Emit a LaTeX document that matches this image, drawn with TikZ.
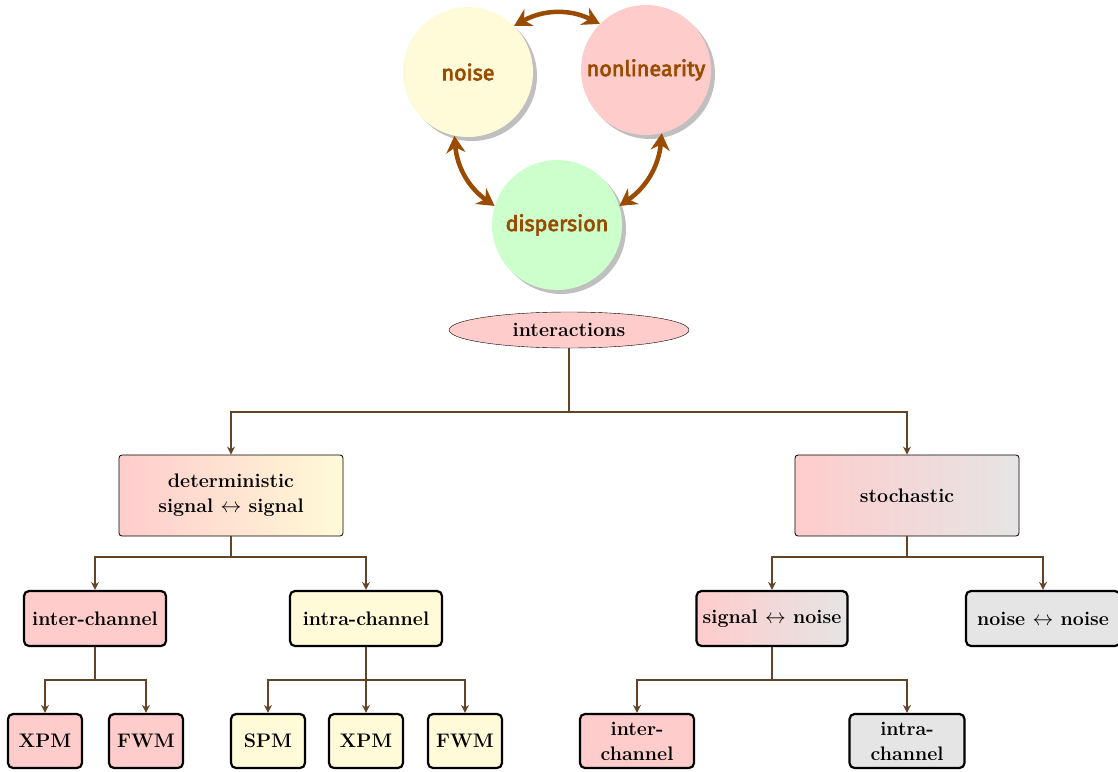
\documentclass[tikz,border=0pt]{standalone}
\usepackage{fontspec}
\newfontfamily\firafont{Fira Sans}[FakeBold=3]
\usetikzlibrary{arrows.meta,shadows,shapes.geometric}
\definecolor{pinkf}{RGB}{255,204,204}
\definecolor{yelf}{RGB}{255,250,215}
\definecolor{greenf}{RGB}{204,255,204}
\definecolor{greyf}{RGB}{229,229,229}
\definecolor{topbrown}{RGB}{153,76,0}
\definecolor{treebrown}{RGB}{100,68,38}
\tikzset{
  circ/.style={circle, minimum size=130pt, inner sep=0pt, draw=none, text=topbrown,
    font=\firafont\fontsize{21.5}{26}\selectfont,
    drop shadow={shadow xshift=4pt, shadow yshift=-4pt, fill=black!25, opacity=1}},
  topar/.style={draw=topbrown, line width=4.5pt, {Stealth[length=17pt,width=19pt]}-{Stealth[length=17pt,width=19pt]}},
  treefont/.style={font=\fontsize{19.6}{25}\selectfont\bfseries},
  midbox/.style={treefont, rectangle, rounded corners=3pt, draw, line width=0.8pt,
    minimum width=224pt, minimum height=81pt, align=center, inner sep=0pt},
  leaf/.style={treefont, rectangle, rounded corners=5pt, draw, line width=2.2pt,
    minimum height=55pt, align=center, inner sep=0pt},
  tree/.style={draw=treebrown, line width=2.2pt, -{Stealth[length=8pt,width=8pt]}},
  treeline/.style={draw=treebrown, line width=2.2pt},
}
\begin{document}
\begin{tikzpicture}[x=1pt,y=-1pt]
\useasboundingbox (0,0) rectangle (1118,771);
% top circles
\node[circ, fill=yelf] (noise) at (468,72) {noise};
\node[circ, fill=pinkf] (nonlin) at (646,70) {nonlinearity};
\node[circ, fill=greenf] (disp) at (557,225) {dispersion};
\draw[topar] (noise.45) to[bend left=28] (nonlin.135);
\draw[topar] (noise.-102) to[bend right=25] (disp.163);
\draw[topar] (nonlin.-76) to[bend left=25] (disp.17);
% tree
\node[ellipse, draw, fill=pinkf, minimum width=240pt, minimum height=36pt, inner sep=0pt, treefont] (int) at (569,330) {interactions};
\node[midbox, left color=pinkf, right color=yelf] (det) at (231,495.5) {deterministic\\signal $\leftrightarrow$ signal};
\node[midbox, left color=pinkf, right color=greyf] (sto) at (907,495.5) {stochastic};
\node[leaf, fill=pinkf, minimum width=142pt] (inter) at (95,618.5) {inter-channel};
\node[leaf, fill=yelf, minimum width=152pt] (intra) at (366,618.5) {intra-channel};
\node[leaf, left color=pinkf, right color=greyf, minimum width=151pt] (sn) at (772,618.5) {signal $\leftrightarrow$ noise};
\node[leaf, fill=greyf, minimum width=154pt] (nn) at (1043,618.5) {noise $\leftrightarrow$ noise};
\node[leaf, fill=pinkf, minimum width=74pt, minimum height=54pt] (xpm1) at (45,741) {XPM};
\node[leaf, fill=pinkf, minimum width=74pt, minimum height=54pt] (fwm1) at (146,741) {FWM};
\node[leaf, fill=yelf, minimum width=74pt, minimum height=54pt] (spm) at (268,741) {SPM};
\node[leaf, fill=yelf, minimum width=74pt, minimum height=54pt] (xpm2) at (366,741) {XPM};
\node[leaf, fill=yelf, minimum width=74pt, minimum height=54pt] (fwm2) at (465,741) {FWM};
\node[leaf, fill=pinkf, minimum width=114pt, minimum height=54pt] (sinter) at (637,741) {inter-\\channel};
\node[leaf, fill=greyf, minimum width=115pt, minimum height=54pt] (sintra) at (907,741) {intra-\\channel};
% junctions
\coordinate (j0) at (569,412);
\coordinate (j1) at (231,557);
\coordinate (j2) at (907,557);
\coordinate (j3) at (95,680);
\coordinate (j4) at (366,680);
\coordinate (j5) at (772,680);
\draw[treeline] (int.south) -- (j0);
\draw[tree] (j0) -| (det.north);
\draw[tree] (j0) -| (sto.north);
\draw[treeline] (det.south) -- (j1);
\draw[tree] (j1) -| (inter.north);
\draw[tree] (j1) -| (intra.north);
\draw[treeline] (sto.south) -- (j2);
\draw[tree] (j2) -| (sn.north);
\draw[tree] (j2) -| (nn.north);
\draw[treeline] (inter.south) -- (j3);
\draw[tree] (j3) -| (xpm1.north);
\draw[tree] (j3) -| (fwm1.north);
\draw[treeline] (intra.south) -- (j4);
\draw[tree] (j4) -| (spm.north);
\draw[tree] (j4) -- (xpm2.north);
\draw[tree] (j4) -| (fwm2.north);
\draw[treeline] (sn.south) -- (j5);
\draw[tree] (j5) -| (sinter.north);
\draw[tree] (j5) -| (sintra.north);
\end{tikzpicture}
\end{document}
